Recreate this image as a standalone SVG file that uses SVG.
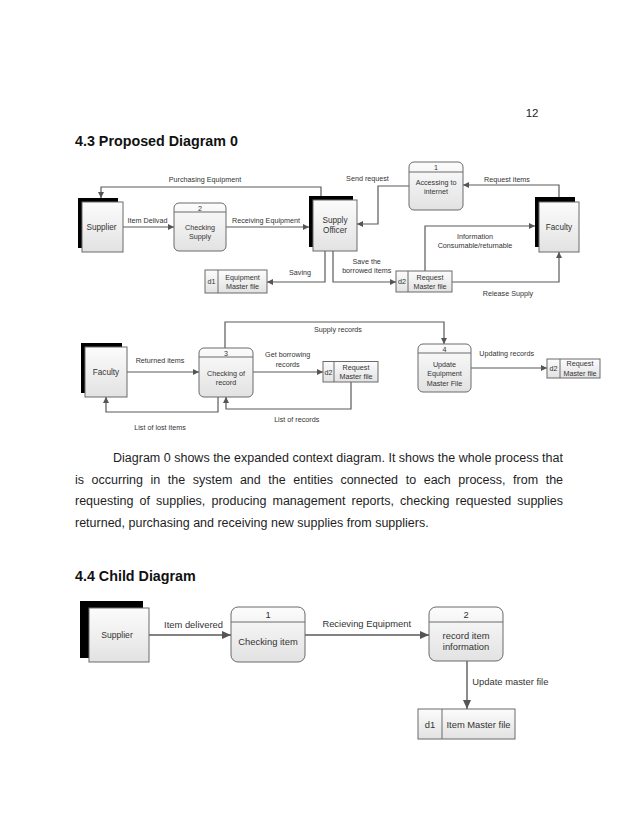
<svg xmlns="http://www.w3.org/2000/svg" width="638" height="826" viewBox="0 0 638 826">
<defs>
<linearGradient id="g" x1="0" y1="0" x2="0" y2="1">
<stop offset="0" stop-color="#fcfcfc"/>
<stop offset="1" stop-color="#e2e2e2"/>
</linearGradient>
<marker id="a" markerUnits="userSpaceOnUse" markerWidth="6" markerHeight="6" refX="6" refY="3" orient="auto">
<path d="M0,0 L6,3 L0,6 z" fill="#555"/>
</marker>
<marker id="b" markerUnits="userSpaceOnUse" markerWidth="9" markerHeight="8" refX="9" refY="4" orient="auto">
<path d="M0,0 L9,4 L0,8 z" fill="#555"/>
</marker>
</defs>
<style>
text{font-family:"Liberation Sans",Arial,sans-serif;fill:#333}
.sh{fill:#000}
.bx{fill:url(#g);stroke:#6a6a6a;stroke-width:1}
.ln{fill:none;stroke:#6a6a6a;stroke-width:1}
.c{fill:none;stroke:#5a5a5a;stroke-width:1.2;marker-end:url(#a)}
.cc{fill:none;stroke:#5a5a5a;stroke-width:1.4;marker-end:url(#b)}
.l{font-size:7.2px;text-anchor:middle}
.n{font-size:8.2px;text-anchor:middle}
.cl{font-size:9.4px;text-anchor:middle}
.p{font-size:12.5px;fill:#1e1e1e}
.h{font-size:14.3px;font-weight:bold;fill:#111}
</style>
<rect width="638" height="826" fill="#fff"/>

<text x="538.5" y="117" font-size="11.5px" text-anchor="end" style="fill:#1e1e1e">12</text>
<text class="h" x="75" y="145.5">4.3 Proposed Diagram 0</text>

<g id="connectors">
<path class="c" d="M321,197 V187 H101 V198"/>
<path class="c" d="M123,227 H174"/>
<path class="c" d="M226,227 H309"/>
<path class="c" d="M325,251 V282 H267"/>
<path class="c" d="M409,186 H378 V224 H357"/>
<path class="c" d="M559,197 V185 H463"/>
<path class="c" d="M425,271 V226 H535"/>
<path class="c" d="M333,251 V282 H396"/>
<path class="c" d="M452,282 H559 V252"/>
<path class="c" d="M127,372 H199"/>
<path class="c" d="M253,372 H323"/>
<path class="c" d="M225,348 V322 H444 V344"/>
<path class="c" d="M471,368 H547"/>
<path class="c" d="M218,397 V412 H106 V397"/>
<path class="c" d="M351,382 V409 H226 V397"/>
<path class="cc" d="M149,635 H231"/>
<path class="cc" d="M305,635 H429"/>
<path class="cc" d="M467,661 V709"/>
<text class="l" x="205" y="182">Purchasing Equipment</text>
<text class="l" x="147.5" y="223">Item Delivad</text>
<text class="l" x="266" y="223">Receiving Equipment</text>
<text class="l" x="300" y="274.5">Saving</text>
<text class="l" x="367.5" y="181">Send request</text>
<text class="l" x="507" y="181.5">Request items</text>
<text class="l" x="475" y="238.5">Information</text>
<text class="l" x="475" y="248">Consumable/returnable</text>
<text class="l" x="366.7" y="263.5">Save the</text>
<text class="l" x="366.7" y="272.5">borrowed items</text>
<text class="l" x="508" y="295.5">Release Supply</text>
<text class="l" x="160" y="362.5">Returned items</text>
<text class="l" x="287.7" y="357">Get borrowing</text>
<text class="l" x="287.7" y="367">records</text>
<text class="l" x="338" y="332">Supply records</text>
<text class="l" x="506.7" y="356">Updating records</text>
<text class="l" x="160" y="430">List of lost items</text>
<text class="l" x="296.7" y="422">List of records</text>
<text class="cl" x="193.5" y="627.5">Item delivered</text>
<text class="cl" x="366.7" y="626.5">Recieving Equipment</text>
<text class="cl" x="472.3" y="685" style="text-anchor:start">Update master file</text>
</g>

<g id="supplier">
<rect class="sh" x="78" y="198" width="40" height="50"/>
<rect class="bx" x="82" y="202" width="41" height="50"/>
<text class="n" x="101.5" y="230">Supplier</text>
</g>
<g id="p2-checking-supply">
<rect class="bx" x="174" y="203" width="52" height="48" rx="5"/>
<line class="ln" x1="174" y1="212" x2="226" y2="212"/>
<text class="l" x="200" y="210.5">2</text>
<text class="l" x="200" y="229.8">Checking</text>
<text class="l" x="200" y="239.2">Supply</text>
</g>
<g id="supply-officer">
<rect class="sh" x="309" y="196" width="44" height="51"/>
<rect class="bx" x="313" y="200" width="44" height="51"/>
<text class="n" x="335" y="223">Supply</text>
<text class="n" x="335" y="233">Officer</text>
</g>
<g id="p1-accessing">
<rect class="bx" x="409" y="162" width="54" height="48" rx="5"/>
<line class="ln" x1="409" y1="172" x2="463" y2="172"/>
<text class="l" x="436" y="170">1</text>
<text class="l" x="436" y="185">Accessing to</text>
<text class="l" x="436" y="193.5">internet</text>
</g>
<g id="faculty">
<rect class="sh" x="535" y="197" width="40" height="50"/>
<rect class="bx" x="539" y="202" width="40" height="50"/>
<text class="n" x="559" y="230">Faculty</text>
</g>
<g id="d1-equipment">
<rect class="bx" x="205" y="270" width="62" height="23"/>
<line class="ln" x1="218" y1="270" x2="218" y2="293"/>
<text class="l" x="211.5" y="284">d1</text>
<text class="l" x="242.5" y="280">Equipment</text>
<text class="l" x="242.5" y="289">Master file</text>
</g>
<g id="d2-request-a">
<rect class="bx" x="396" y="271" width="56" height="21"/>
<line class="ln" x1="408" y1="271" x2="408" y2="292"/>
<text class="l" x="402" y="284">d2</text>
<text class="l" x="430" y="280">Request</text>
<text class="l" x="430" y="288.5">Master file</text>
</g>

<g id="faculty-2">
<rect class="sh" x="81" y="343" width="41" height="50"/>
<rect class="bx" x="85" y="347" width="42" height="50"/>
<text class="n" x="106" y="375">Faculty</text>
</g>
<g id="p3-checking-record">
<rect class="bx" x="199" y="348" width="54" height="49" rx="5"/>
<line class="ln" x1="199" y1="357" x2="253" y2="357"/>
<text class="l" x="226" y="355.5">3</text>
<text class="l" x="226" y="376">Checking of</text>
<text class="l" x="226" y="385">record</text>
</g>
<g id="d2-request-b">
<rect class="bx" x="323" y="361.5" width="55" height="20.5"/>
<line class="ln" x1="334" y1="361.5" x2="334" y2="382"/>
<text class="l" x="328.5" y="374.5">d2</text>
<text class="l" x="356" y="369.5">Request</text>
<text class="l" x="356" y="378.5">Master file</text>
</g>
<g id="p4-update">
<rect class="bx" x="418" y="344" width="53" height="48" rx="5"/>
<line class="ln" x1="418" y1="353" x2="471" y2="353"/>
<text class="l" x="444.5" y="351.5">4</text>
<text class="l" x="444.5" y="367">Update</text>
<text class="l" x="444.5" y="376">Equipment</text>
<text class="l" x="444.5" y="385.5">Master File</text>
</g>
<g id="d2-request-c">
<rect class="bx" x="547" y="359" width="53" height="19"/>
<line class="ln" x1="560" y1="359" x2="560" y2="378"/>
<text class="l" x="553.5" y="371">d2</text>
<text class="l" x="580" y="366">Request</text>
<text class="l" x="580" y="375.5">Master file</text>
</g>

<g id="paragraph">
<text class="p" x="113" y="462" textLength="450" lengthAdjust="spacing">Diagram 0 shows the expanded context diagram. It shows the whole process that</text>
<text class="p" y="483.5"><tspan x="75">is</tspan><tspan x="91.6">occurring</tspan><tspan x="150.6">in</tspan><tspan x="167.8">the</tspan><tspan x="192.8">system</tspan><tspan x="239.9">and</tspan><tspan x="268.3">the</tspan><tspan x="293.3">entities</tspan><tspan x="340.4">connected</tspan><tspan x="405.7">to</tspan><tspan x="423.7">each</tspan><tspan x="458.3">process,</tspan><tspan x="513.1">from</tspan><tspan x="545.7">the</tspan></text>
<text class="p" y="505"><tspan x="75">requesting</tspan><tspan x="139.5">of</tspan><tspan x="156">supplies,</tspan><tspan x="211.5">producing</tspan><tspan x="272.5">management</tspan><tspan x="351.5">reports,</tspan><tspan x="400">checking</tspan><tspan x="455.5">requested</tspan><tspan x="517.2">supplies</tspan></text>
<text class="p" x="75" y="527">returned, purchasing and receiving new supplies from suppliers.</text>
</g>

<text class="h" x="75" y="581">4.4 Child Diagram</text>

<g id="child-supplier">
<rect class="sh" x="80" y="601" width="63" height="57"/>
<rect class="bx" x="89" y="608" width="60" height="54"/>
<text class="cl" x="117" y="638" style="font-size:8.6px">Supplier</text>
</g>
<g id="child-p1">
<rect class="bx" x="231" y="607" width="74" height="55" rx="7"/>
<line class="ln" x1="231" y1="622" x2="305" y2="622"/>
<text class="cl" x="268" y="617.5">1</text>
<text class="cl" x="268" y="645">Checking item</text>
</g>
<g id="child-p2">
<rect class="bx" x="429" y="607" width="74" height="54" rx="7"/>
<line class="ln" x1="429" y1="622" x2="503" y2="622"/>
<text class="cl" x="466" y="617.5">2</text>
<text class="cl" x="466" y="639">record item</text>
<text class="cl" x="466" y="650">information</text>
</g>
<g id="child-d1">
<rect class="bx" x="418" y="709" width="97" height="30"/>
<line class="ln" x1="442" y1="709" x2="442" y2="739"/>
<text class="cl" x="430" y="727.5">d1</text>
<text class="cl" x="478.5" y="727.5">Item Master file</text>
</g>
</svg>
